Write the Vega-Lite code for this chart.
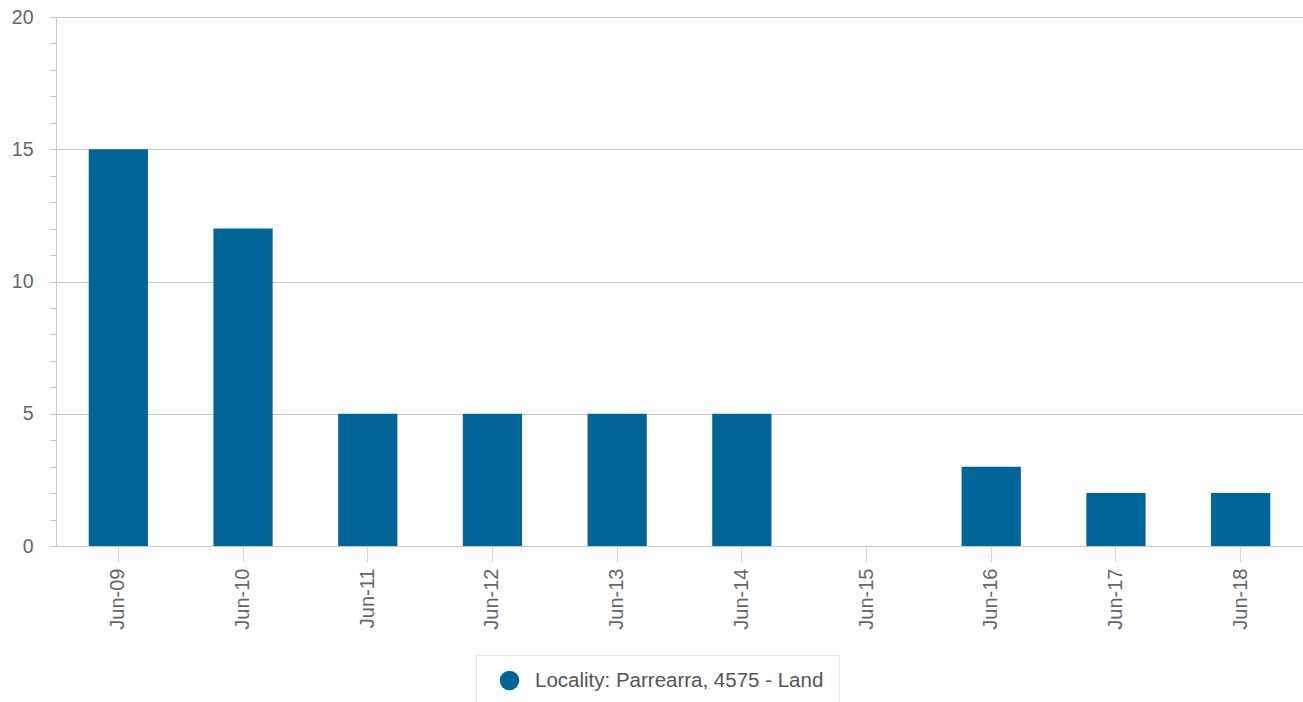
{
  "$schema": "https://vega.github.io/schema/vega-lite/v6.json",
  "autosize": {"type": "none"},
  "width": 1247,
  "height": 529,
  "padding": {"left": 56, "top": 17, "right": 0, "bottom": 156},
  "background": "white",
  "config": {
    "font": "Liberation Sans",
    "view": {"stroke": null}
  },
  "data": {
    "values": [
      {"month": "Jun-09", "value": 15, "series": "Locality: Parrearra, 4575 - Land"},
      {"month": "Jun-10", "value": 12, "series": "Locality: Parrearra, 4575 - Land"},
      {"month": "Jun-11", "value": 5, "series": "Locality: Parrearra, 4575 - Land"},
      {"month": "Jun-12", "value": 5, "series": "Locality: Parrearra, 4575 - Land"},
      {"month": "Jun-13", "value": 5, "series": "Locality: Parrearra, 4575 - Land"},
      {"month": "Jun-14", "value": 5, "series": "Locality: Parrearra, 4575 - Land"},
      {"month": "Jun-15", "value": 0, "series": "Locality: Parrearra, 4575 - Land"},
      {"month": "Jun-16", "value": 3, "series": "Locality: Parrearra, 4575 - Land"},
      {"month": "Jun-17", "value": 2, "series": "Locality: Parrearra, 4575 - Land"},
      {"month": "Jun-18", "value": 2, "series": "Locality: Parrearra, 4575 - Land"}
    ]
  },
  "mark": {"type": "bar"},
  "encoding": {
    "x": {
      "field": "month",
      "type": "ordinal",
      "sort": null,
      "scale": {"paddingInner": 0.525, "paddingOuter": 0.2625},
      "axis": {
        "title": null,
        "labelAngle": -90,
        "labelFontSize": 20,
        "labelColor": "#666666",
        "labelPadding": 6,
        "tickColor": "#ccd6eb",
        "tickSize": 16,
        "domainColor": "#c8c8c8",
        "grid": false
      }
    },
    "y": {
      "field": "value",
      "type": "quantitative",
      "scale": {"domain": [0, 20], "nice": false},
      "axis": {
        "title": null,
        "values": [0,1,2,3,4,5,6,7,8,9,10,11,12,13,14,15,16,17,18,19,20],
        "labelExpr": "datum.value % 5 === 0 ? datum.label : ''",
        "labelFontSize": 19.5,
        "labelColor": "#666666",
        "labelPadding": 17,
        "tickSize": 6,
        "tickColor": "#c0c0c0",
        "domainColor": "#c8c8c8",
        "grid": true,
        "gridColor": "#c8c8c8",
        "gridOpacity": {"condition": {"test": "datum.value % 5 === 0", "value": 1}, "value": 0}
      }
    },
    "color": {
      "field": "series",
      "type": "nominal",
      "scale": {"range": ["#006699"]},
      "legend": {
        "title": null,
        "orient": "none",
        "legendX": 420,
        "legendY": 638,
        "symbolType": "circle",
        "symbolSize": 380,
        "symbolOffset": 8,
        "labelOffset": 15,
        "labelFontSize": 20.5,
        "labelColor": "#555555",
        "labelLimit": 600,
        "padding": 15,
        "strokeColor": "#e6e6e6",
        "fillColor": "white"
      }
    }
  }
}
